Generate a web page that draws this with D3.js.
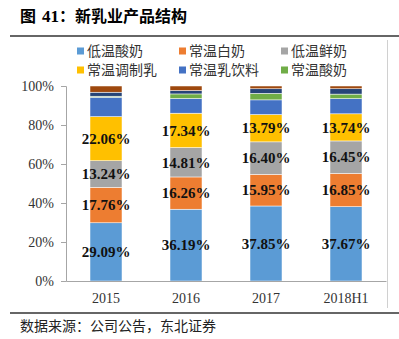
<!DOCTYPE html>
<html>
<head>
<meta charset="utf-8">
<script src="https://cdn.jsdelivr.net/npm/d3@7"></script>
<style>
    body { margin: 0; background: #fff; }
    svg { display: block; }
</style>
</head>
<body>
<svg id="chart" width="399" height="339"></svg>
<script>
// categories and series (percent, as labelled on the chart)
const categories = ["2015", "2016", "2017", "2018H1"];
const seriesNames = ["低温酸奶", "常温白奶", "低温鲜奶", "常温调制乳", "常温乳饮料", "常温酸奶", "其他1", "其他2"];
const lowTempYogurt = [29.09, 36.19, 37.85, 37.67];
const ambientMilk = [17.76, 16.26, 15.95, 16.85];
const freshMilk = [13.24, 14.81, 16.40, 16.45];
const ambientModified = [22.06, 17.34, 13.79, 13.74];
const ambientDrink = [9.7, 7.4, 7.4, 7.7];
const ambientYogurt = [0.5, 2.3, 3.3, 2.3];     // estimated
const otherA = [2.0, 1.7, 2.3, 2.7];            // estimated, not in legend
const otherB = [3.1, 2.3, 1.4, 1.4];            // estimated, not in legend
const yTicks = [0, 0.2, 0.4, 0.6, 0.8, 1];

const colors = ["#5B9BD5", "#ED7D31", "#A5A5A5", "#FFC000", "#4472C4", "#70AD47", "#264478", "#9E480E"];
const labelled = 4; // only the first four series carry value labels
const legendCount = 6;

const allSeries = [lowTempYogurt, ambientMilk, freshMilk, ambientModified, ambientDrink, ambientYogurt, otherA, otherB];
const rows = categories.map((c, i) => {
    const row = { cat: c };
    seriesNames.forEach((s, k) => { row[s] = allSeries[k][i]; });
    return row;
});

const svg = d3.select("#chart");
const plot = { left: 66, right: 386, top: 86, bottom: 281 };

// title and rules
const title = svg.append("text")
    .attr("x", 20).attr("y", 22)
    .attr("font-family", "'Noto Sans CJK SC', sans-serif")
    .attr("font-weight", "bold")
    .attr("font-size", 16)
    .attr("fill", "#000");
title.append("tspan").text("图");
title.append("tspan").attr("dx", 6)
    .attr("font-family", "'Liberation Serif', serif")
    .attr("font-size", 17)
    .text("41");
title.append("tspan").text("：新乳业产品结构");

svg.append("line").attr("x1", 10).attr("x2", 399).attr("y1", 36).attr("y2", 36)
    .attr("stroke", "#333").attr("stroke-width", 1.5);
svg.append("line").attr("x1", 10).attr("x2", 399).attr("y1", 313).attr("y2", 313)
    .attr("stroke", "#333").attr("stroke-width", 1.5);
svg.append("line").attr("x1", 387.5).attr("x2", 387.5).attr("y1", 40).attr("y2", 308)
    .attr("stroke", "#d0d0d0").attr("stroke-width", 1);

svg.append("text")
    .attr("x", 20).attr("y", 331)
    .attr("font-family", "'Noto Sans CJK SC', sans-serif")
    .attr("font-size", 14)
    .attr("fill", "#222")
    .text("数据来源：公司公告，东北证券");

// scales
const x = d3.scaleBand().domain(categories).range([plot.left, plot.right]).paddingInner(0.6).paddingOuter(0.3);
const y = d3.scaleLinear().domain([0, 1]).range([plot.bottom, plot.top]);

const stack = d3.stack().keys(seriesNames).offset(d3.stackOffsetExpand);
const stacked = stack(rows);

// bars
const layers = svg.append("g").selectAll("g")
    .data(stacked)
    .enter().append("g")
    .attr("fill", (d, i) => colors[i]);

layers.selectAll("rect")
    .data(d => d)
    .enter().append("rect")
    .attr("x", d => x(d.data.cat))
    .attr("width", x.bandwidth())
    .attr("y", d => y(d[1]))
    .attr("height", d => y(d[0]) - y(d[1]))
    .attr("stroke", "#fff")
    .attr("stroke-width", 0.5);

// value labels
svg.append("g").selectAll("g")
    .data(stacked.slice(0, labelled))
    .enter().append("g")
    .selectAll("text")
    .data((d, k) => d.map(p => ({ p, v: allSeries[k][categories.indexOf(p.data.cat)] })))
    .enter().append("text")
    .attr("x", d => x(d.p.data.cat) + x.bandwidth() / 2)
    .attr("y", d => (y(d.p[0]) + y(d.p[1])) / 2)
    .attr("dy", "0.35em")
    .attr("text-anchor", "middle")
    .attr("font-family", "'Liberation Serif', serif")
    .attr("font-weight", "bold")
    .attr("font-size", 15)
    .attr("fill", "#111")
    .text(d => d.v.toFixed(2) + "%");

// axes
const yAxis = svg.append("g")
    .attr("transform", `translate(${plot.left},0)`)
    .call(d3.axisLeft(y).tickValues(yTicks).tickFormat(d3.format(".0%")).tickSize(5).tickPadding(7));
yAxis.select(".domain").attr("stroke", "#a6a6a6");
yAxis.selectAll(".tick line").attr("stroke", "#a6a6a6");
yAxis.selectAll("text")
    .attr("font-family", "'Liberation Serif', serif")
    .attr("font-size", 14)
    .attr("fill", "#333");

const xAxis = svg.append("g")
    .attr("transform", `translate(0,${plot.bottom})`)
    .call(d3.axisBottom(x).tickSize(0).tickPadding(12));
xAxis.select(".domain").attr("stroke", "#a6a6a6");
xAxis.selectAll("text")
    .attr("font-family", "'Liberation Serif', serif")
    .attr("font-size", 14)
    .attr("fill", "#333");

// legend
const legend = svg.append("g").selectAll("g")
    .data(seriesNames.slice(0, legendCount))
    .enter().append("g")
    .attr("transform", (d, i) => `translate(${77 + (i % 3) * 102},${51 + Math.floor(i / 3) * 19})`);
legend.append("rect")
    .attr("x", 0).attr("y", -3.5)
    .attr("width", 7).attr("height", 7)
    .attr("fill", (d, i) => colors[i]);
legend.append("text")
    .attr("x", 10).attr("dy", "0.35em")
    .attr("font-family", "'Noto Sans CJK SC', sans-serif")
    .attr("font-size", 14)
    .attr("fill", "#333")
    .text(d => d);
</script>
</body>
</html>
